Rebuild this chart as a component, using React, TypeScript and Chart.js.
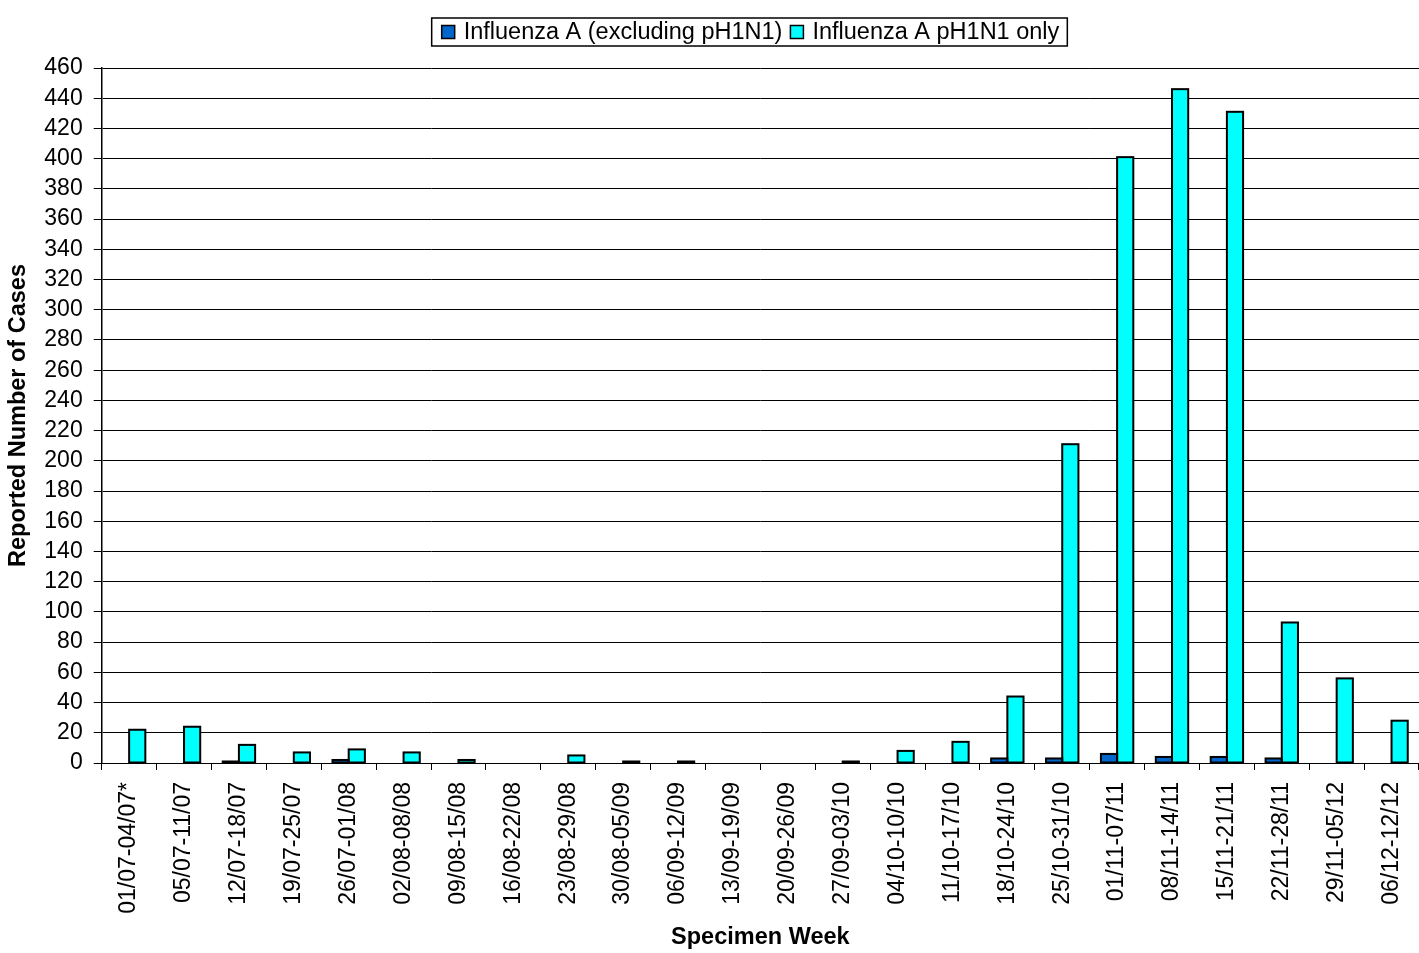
import React, { useEffect, useRef } from "react";
import { Chart, registerables } from "chart.js";

Chart.register(...registerables);

const categories = [
  "01/07-04/07*", "05/07-11/07", "12/07-18/07", "19/07-25/07", "26/07-01/08",
  "02/08-08/08", "09/08-15/08", "16/08-22/08", "23/08-29/08", "30/08-05/09",
  "06/09-12/09", "13/09-19/09", "20/09-26/09", "27/09-03/10", "04/10-10/10",
  "11/10-17/10", "18/10-24/10", "25/10-31/10", "01/11-07/11", "08/11-14/11",
  "15/11-21/11", "22/11-28/11", "29/11-05/12", "06/12-12/12",
];

const seriesNames = ["Influenza A (excluding pH1N1)", "Influenza A pH1N1 only"];

const excludingPH1N1 = [0, 0, 1, 0, 2, 0, 0, 0, 0, 0, 0, 0, 0, 0, 0, 0, 3, 3, 6, 4, 4, 3, 0, 0];
const pH1N1Only = [22, 24, 12, 7, 9, 7, 2, 0, 5, 1, 1, 0, 0, 1, 8, 14, 44, 211, 401, 446, 431, 93, 56, 28];

const yMin = 0;
const yMax = 460;
const yStep = 20;

const xTitle = "Specimen Week";
const yTitle = "Reported Number of Cases";

const FONT = "'Liberation Sans', Arial, Helvetica, sans-serif";
const BLUE = "#0066CC";
const CYAN = "#00FFFF";

// Outline every non-zero bar using the geometry Chart.js computed for it.
const barOutlines = {
  id: "barOutlines",
  afterDatasetsDraw(chart: any) {
    const ctx = chart.ctx as CanvasRenderingContext2D;
    ctx.save();
    ctx.strokeStyle = "#000";
    ctx.lineWidth = 2;
    chart.data.datasets.forEach((ds: any, di: number) => {
      const meta = chart.getDatasetMeta(di);
      meta.data.forEach((bar: any, i: number) => {
        if (!ds.data[i]) return;
        const { x, y, base, width } = bar.getProps(["x", "y", "base", "width"], true);
        const left = x - width / 2;
        const top = Math.min(y, base);
        const h = Math.abs(base - y);
        ctx.strokeRect(left, top, width, h);
      });
    });
    ctx.restore();
  },
};

const boxedLegend = {
  id: "boxedLegend",
  afterDraw(chart: any) {
    const ctx = chart.ctx as CanvasRenderingContext2D;
    ctx.save();
    ctx.font = `23.5px ${FONT}`;
    ctx.textBaseline = "middle";
    const box = 13;
    const gap = 9;
    const between = 8;
    const padL = 10;
    const padR = 8;
    const w1 = ctx.measureText(seriesNames[0]).width;
    const w2 = ctx.measureText(seriesNames[1]).width;
    const total = padL + box + gap + w1 + between + box + gap + w2 + padR;
    const center = 749.5;
    const left = center - total / 2;
    const top = 18;
    const h = 28;
    const cy = top + h / 2;
    ctx.fillStyle = "#fff";
    ctx.fillRect(left, top, total, h);
    ctx.strokeStyle = "#000";
    ctx.lineWidth = 1.5;
    ctx.strokeRect(left, top, total, h);
    let x = left + padL;
    const colors = [BLUE, CYAN];
    const widths = [w1, w2];
    for (let i = 0; i < 2; i++) {
      ctx.fillStyle = colors[i];
      ctx.fillRect(x, cy - box / 2, box, box);
      ctx.strokeStyle = "#000";
      ctx.lineWidth = 1.5;
      ctx.strokeRect(x, cy - box / 2, box, box);
      x += box + gap;
      ctx.fillStyle = "#000";
      ctx.textAlign = "left";
      ctx.fillText(seriesNames[i], x, cy + 1);
      x += widths[i] + between;
    }
    ctx.restore();
  },
};

export default function App() {
  const ref = useRef<HTMLCanvasElement | null>(null);

  useEffect(() => {
    document.body.style.margin = "0";
    const canvas = ref.current;
    if (!canvas) return;
    const chart = new Chart(canvas, {
      type: "bar",
      data: {
        labels: categories,
        datasets: [
          {
            label: seriesNames[0],
            data: excludingPH1N1,
            backgroundColor: BLUE,
            borderWidth: 0,
          },
          {
            label: seriesNames[1],
            data: pH1N1Only,
            backgroundColor: CYAN,
            borderWidth: 0,
          },
        ],
      },
      options: {
        animation: false,
        responsive: true,
        maintainAspectRatio: false,
        layout: { padding: { top: 68, left: 0, right: -12.3, bottom: 0 } },
        datasets: {
          bar: { barPercentage: 1, categoryPercentage: 0.59 },
        },
        plugins: {
          legend: { display: false },
          tooltip: { enabled: false },
        },
        scales: {
          x: {
            offset: true,
            grid: {
              offset: true,
              drawOnChartArea: false,
              drawTicks: true,
              tickLength: 7,
              color: "#000",
              lineWidth: 1,
            },
            border: { display: true, color: "#000", width: 1 },
            ticks: {
              minRotation: 90,
              maxRotation: 90,
              autoSkip: false,
              padding: 12,
              color: "#000",
              font: { family: FONT, size: 23 },
            },
            title: {
              display: true,
              text: xTitle,
              color: "#000",
              font: { family: FONT, size: 23.5, weight: "bold" },
              padding: { top: 0, bottom: 1 },
            },
            afterFit(scale: any) {
              scale.height = 953 - 763;
              scale.paddingLeft = 0;
              scale.paddingRight = 0;
            },
          },
          y: {
            min: yMin,
            max: yMax,
            ticks: {
              stepSize: yStep,
              autoSkip: false,
              padding: 11,
              color: "#000",
              font: { family: FONT, size: 23 },
            },
            grid: {
              color: "#000",
              lineWidth: 1,
              drawTicks: true,
              tickLength: 8,
            },
            border: { display: true, color: "#000", width: 1.5 },
            title: {
              display: true,
              text: yTitle,
              color: "#000",
              font: { family: FONT, size: 23.5, weight: "bold" },
              padding: { top: 4, bottom: 0 },
            },
            afterFit(scale: any) {
              scale.width = 101.7;
            },
          },
        },
      },
      plugins: [barOutlines, boxedLegend],
    });
    return () => chart.destroy();
  }, []);

  return (
    <div style={{ width: 1419, height: 953, position: "relative" }}>
      <canvas ref={ref} />
    </div>
  );
}
